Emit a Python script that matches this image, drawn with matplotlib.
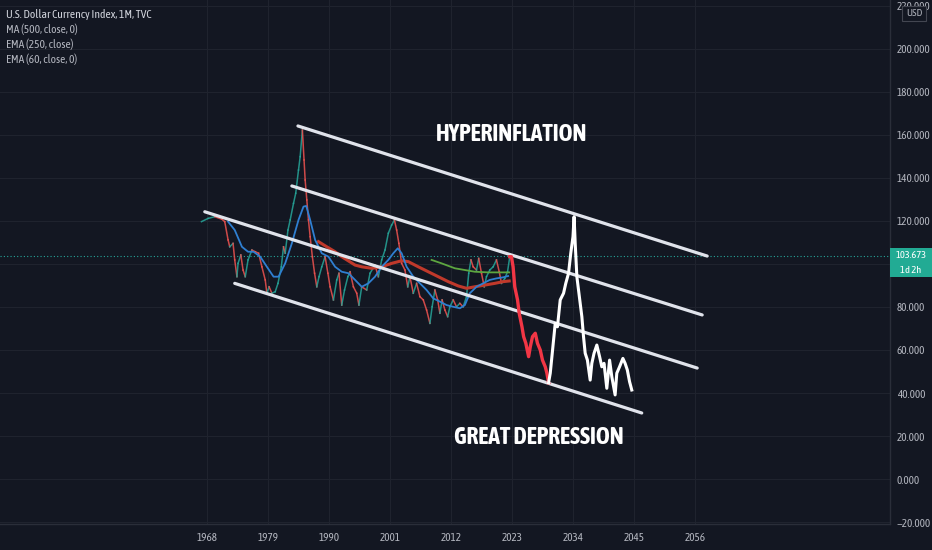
import matplotlib
matplotlib.use("Agg")
import matplotlib.pyplot as plt
import matplotlib.font_manager as fm
from matplotlib.patches import Rectangle

# ---------------- data ----------------
price_years = [1967.0, 1968.2, 1969.4, 1970.7, 1971.2, 1971.8, 1972.1, 1972.7, 1973.0, 1973.4,
               1973.6, 1974.1, 1974.5, 1974.9, 1975.4, 1976.1, 1976.7, 1977.3, 1977.9, 1978.5,
               1978.8, 1979.2, 1979.7, 1980.3, 1980.8, 1981.4, 1981.8, 1982.1, 1982.6, 1983.0,
               1983.6, 1984.0, 1984.5, 1984.8, 1985.2, 1985.5, 1985.7, 1986.0, 1986.3, 1986.6,
               1987.0, 1987.4, 1987.8, 1988.2, 1988.7, 1989.3, 1989.8, 1990.2, 1990.8, 1991.4,
               1991.8, 1992.3, 1992.8, 1993.4, 1993.8, 1994.4, 1995.0, 1995.4, 1995.9, 1996.8,
               1997.4, 1998.3, 1998.9, 1999.5, 2000.1, 2000.7, 2001.3, 2001.8, 2002.2, 2002.6,
               2003.1, 2003.7, 2004.2, 2004.6, 2005.2, 2005.8, 2006.4, 2007.0, 2007.6, 2008.2,
               2008.6, 2009.1, 2009.6, 2010.0, 2010.4, 2010.9, 2011.4, 2011.8, 2012.4, 2013.0,
               2013.6, 2014.2, 2014.8, 2015.2, 2015.6, 2016.0, 2016.6, 2017.0, 2017.5, 2018.0,
               2018.4, 2019.0, 2019.6, 2020.2, 2020.7, 2021.1, 2021.7, 2022.2, 2022.6]
price_values = [119.7, 121.2, 122.0, 120.8, 119.7, 111.2, 108.0, 109.6, 101.9, 94.1,
                100.3, 104.2, 97.2, 94.1, 101.9, 106.5, 105.7, 105.0, 98.7, 92.6,
                86.4, 89.4, 86.4, 87.1, 91.0, 98.7, 108.0, 105.0, 115.8, 120.5,
                128.2, 132.9, 143.7, 149.9, 162.3, 148.4, 139.1, 129.8, 120.5, 112.7,
                103.4, 95.7, 89.4, 94.1, 98.7, 103.4, 95.7, 89.4, 83.3, 92.6,
                95.7, 80.9, 87.9, 94.1, 96.4, 89.4, 86.4, 80.9, 89.4, 87.9,
                95.7, 99.5, 94.1, 101.9, 106.5, 114.3, 118.1, 120.5, 115.8, 109.6,
                100.3, 97.2, 89.4, 94.1, 86.4, 91.0, 84.8, 83.3, 78.6, 72.4,
                80.1, 87.9, 83.3, 77.1, 83.3, 78.6, 75.5, 80.1, 83.3, 80.1,
                81.7, 80.1, 84.8, 95.7, 101.9, 98.7, 97.2, 102.6, 95.7, 89.4,
                94.1, 97.2, 98.7, 101.9, 96.4, 91.0, 93.3, 96.4, 103.4]

crash_years = [2022.6, 2022.9, 2023.2, 2023.5, 2024.0, 2024.3, 2024.8, 2025.1, 2025.5, 2026.0,
               2026.3, 2026.7, 2027.2, 2027.6, 2028.1, 2028.5, 2029.0, 2029.3, 2029.6]
crash_values = [103.4, 103.4, 98.7, 89.4, 83.3, 77.1, 70.8, 66.2, 63.1, 56.9,
                61.5, 66.2, 67.8, 63.1, 60.0, 55.3, 52.2, 49.2, 44.8]

proj_years = [2029.6, 2029.9, 2030.2, 2030.5, 2030.8, 2031.2, 2031.7, 2032.3, 2032.7, 2033.2,
              2033.6, 2034.0, 2034.2, 2034.4, 2034.7, 2035.0, 2035.3, 2035.6, 2035.9, 2036.2,
              2036.6, 2037.1, 2037.4, 2037.8, 2038.3, 2038.8, 2039.2, 2039.6, 2040.1, 2040.6,
              2041.0, 2041.6, 2041.9, 2042.4, 2043.0, 2043.4, 2043.8, 2044.2, 2044.6]
proj_values = [44.8, 49.2, 56.9, 64.7, 72.4, 70.8, 83.3, 86.4, 91.0, 95.7,
               105.0, 112.7, 122.0, 109.6, 94.1, 87.9, 81.7, 75.5, 66.2, 58.5,
               55.3, 46.0, 53.8, 58.5, 62.3, 56.9, 52.2, 53.8, 42.2, 55.3,
               47.6, 39.1, 49.2, 52.2, 56.1, 53.8, 50.7, 45.3, 41.4]

ema60_years = [1971.8, 1973.0, 1974.3, 1975.4, 1976.4, 1977.6, 1978.8, 1980.0, 1980.9, 1982.1,
               1983.3, 1984.5, 1985.4, 1985.9, 1986.6, 1987.5, 1988.7, 1989.9, 1991.1, 1992.3,
               1993.5, 1994.7, 1995.9, 1997.1, 1998.3, 1999.5, 2000.7, 2001.6, 2002.4, 2003.1,
               2004.0, 2005.2, 2006.4, 2007.6, 2008.8, 2010.0, 2011.2, 2012.4, 2013.6, 2014.5,
               2015.4, 2016.6, 2017.8, 2019.0, 2020.2, 2021.4, 2022.3]
ema60_values = [119.7, 115.8, 108.0, 105.7, 105.7, 103.4, 98.7, 94.1, 94.1, 100.3,
                109.6, 120.5, 126.7, 127.0, 120.5, 111.2, 105.0, 103.4, 98.7, 96.4,
                95.7, 92.6, 89.4, 91.0, 94.1, 98.7, 101.9, 105.0, 107.3, 105.0,
                98.7, 94.1, 91.0, 87.9, 84.0, 82.5, 80.9, 80.1, 79.4, 80.9,
                86.4, 89.4, 91.0, 92.6, 93.3, 93.8, 94.4]

ema250_years = [1988.1, 1989.6, 1991.1, 1992.3, 1994.7, 1995.9, 1997.7, 1999.5, 2001.3, 2003.1,
                2004.3, 2006.1, 2007.9, 2009.7, 2011.5, 2013.3, 2014.8, 2016.3, 2018.1, 2019.9,
                2021.4, 2022.5]
ema250_values = [110.4, 108.0, 105.7, 103.4, 99.5, 98.7, 98.0, 98.7, 100.3, 101.5,
                 101.1, 98.7, 96.4, 94.1, 91.8, 89.8, 88.7, 89.4, 90.2, 91.0,
                 91.8, 92.1]

ma500_years = [2008.5, 2010.3, 2012.7, 2014.5, 2016.3, 2018.7, 2021.1, 2022.5]
ma500_values = [101.9, 100.3, 98.0, 97.2, 96.4, 96.1, 96.1, 96.1]

# channel lines: (start year, end year) and (start value, end value)
channel_x = [(1984.4, 2058.2), (1983.3, 2057.3), (1967.6, 2056.4), (1973.0, 2046.4)]
channel_y = [(164.2, 103.7), (136.3, 76.3), (124.3, 51.6), (91.0, 30.7)]

x_ticks = [1968, 1979, 1990, 2001, 2012, 2023, 2034, 2045, 2056]
y_ticks = [-20, 0, 20, 40, 60, 80, 100, 120, 140, 160, 180, 200, 220]
last_price = 103.673
legend_lines = ["U.S. Dollar Currency Index, 1M, TVC", "MA (500, close, 0)",
                "EMA (250, close)", "EMA (60, close, 0)"]

# ---------------- fonts ----------------
names = {f.name for f in fm.fontManager.ttflist}
fam = [n for n in ['Asap Condensed', 'Archivo Narrow'] if n in names] + ['DejaVu Sans']
plt.rcParams['font.family'] = fam

BG = '#131722'
GRID = '#1f232e'
TXT = '#b2b5be'

W, H = 932, 550
fig = plt.figure(figsize=(W / 100, H / 100), dpi=100, facecolor=BG)
ax = fig.add_axes([0, 26 / H, 890 / W, 524 / H])
ax.set_facecolor(BG)
ax.set_xlim(1930.67, 2091.17)
ax.set_ylim(-20.93, 222.79)

ax.set_xticks(x_ticks)
ax.set_xticklabels([str(t) for t in x_ticks])
ax.set_yticks(y_ticks)
# the 100 label sits under the last-price badge, so it is not shown
ax.set_yticklabels(["" if t == 100 else f"{t:.3f}".replace('-', '\u2212') for t in y_ticks])
ax.yaxis.tick_right()
ax.tick_params(axis='both', length=0, colors=TXT, labelsize=8)
ax.tick_params(axis='y', pad=5)
ax.tick_params(axis='x', pad=6)
ax.grid(True, color=GRID, lw=0.8)
ax.set_axisbelow(True)
for s in ['top', 'left']:
    ax.spines[s].set_visible(False)
for s in ['right', 'bottom']:
    ax.spines[s].set_color('#2a2e39')
    ax.spines[s].set_linewidth(1.0)

# last price dotted line
ax.axhline(last_price, color='#26a69a', lw=0.8, ls=(0, (1, 2)), zorder=2)

# channel lines
for (x0, x1), (y0, y1) in zip(channel_x, channel_y):
    ax.plot([x0, x1], [y0, y1], color='#e0e3eb', lw=2.3, solid_capstyle='round', zorder=5)

# historical candles as direction-coloured segments
for i in range(1, len(price_years)):
    up = price_values[i] >= price_values[i - 1]
    ax.plot(price_years[i - 1:i + 1], price_values[i - 1:i + 1],
            color='#26a69a' if up else '#ef5350', lw=1.1, alpha=0.85, zorder=3)

ax.plot(ma500_years, ma500_values, color='#5da640', lw=1.3, zorder=4)
ax.plot(ema250_years, ema250_values, color='#c0392b', lw=2.2, zorder=4)
ax.plot(ema60_years, ema60_values, color='#2f7fd1', lw=1.3, zorder=4)

ax.plot(crash_years, crash_values, color='#f23645', lw=2.4, zorder=6)
ax.plot(proj_years, proj_values, color='white', lw=2.2, zorder=6)

ax.text(2023.0, 160.2, "HYPERINFLATION", color='white', fontsize=17, fontweight='bold',
        ha='center', va='center', zorder=7)
ax.text(2027.8, 19.5, "GREAT DEPRESSION", color='white', fontsize=17, fontweight='bold',
        ha='center', va='center', zorder=7)

# legend text top-left
for i, t in enumerate(legend_lines):
    fig.text(6 / W, 1 - (14 + 15 * i) / H, t, color='#d1d4dc' if i == 0 else TXT,
             fontsize=8.3, va='center', ha='left')

# price badge
fig.patches.append(Rectangle((890 / W, 1 - 277 / H), 42 / W, 29 / H, transform=fig.transFigure,
                             facecolor='#22ab94', edgecolor='none', zorder=10))
fig.text(911 / W, 1 - 255.5 / H, f"{last_price:.3f}", color='white', fontsize=7.5, ha='center', va='center', zorder=11)
fig.text(911 / W, 1 - 270 / H, "1d 2h", color='white', fontsize=7.5, ha='center', va='center', zorder=11)

# USD box
fig.patches.append(Rectangle((902 / W, 1 - 21 / H), 24 / W, 15 / H, transform=fig.transFigure,
                             facecolor=BG, edgecolor='#434651', lw=0.8, zorder=10))
fig.text(914 / W, 1 - 13.5 / H, "USD", color=TXT, fontsize=7.5, ha='center', va='center', zorder=11)

fig.savefig("out.png", dpi=100, facecolor=BG)
